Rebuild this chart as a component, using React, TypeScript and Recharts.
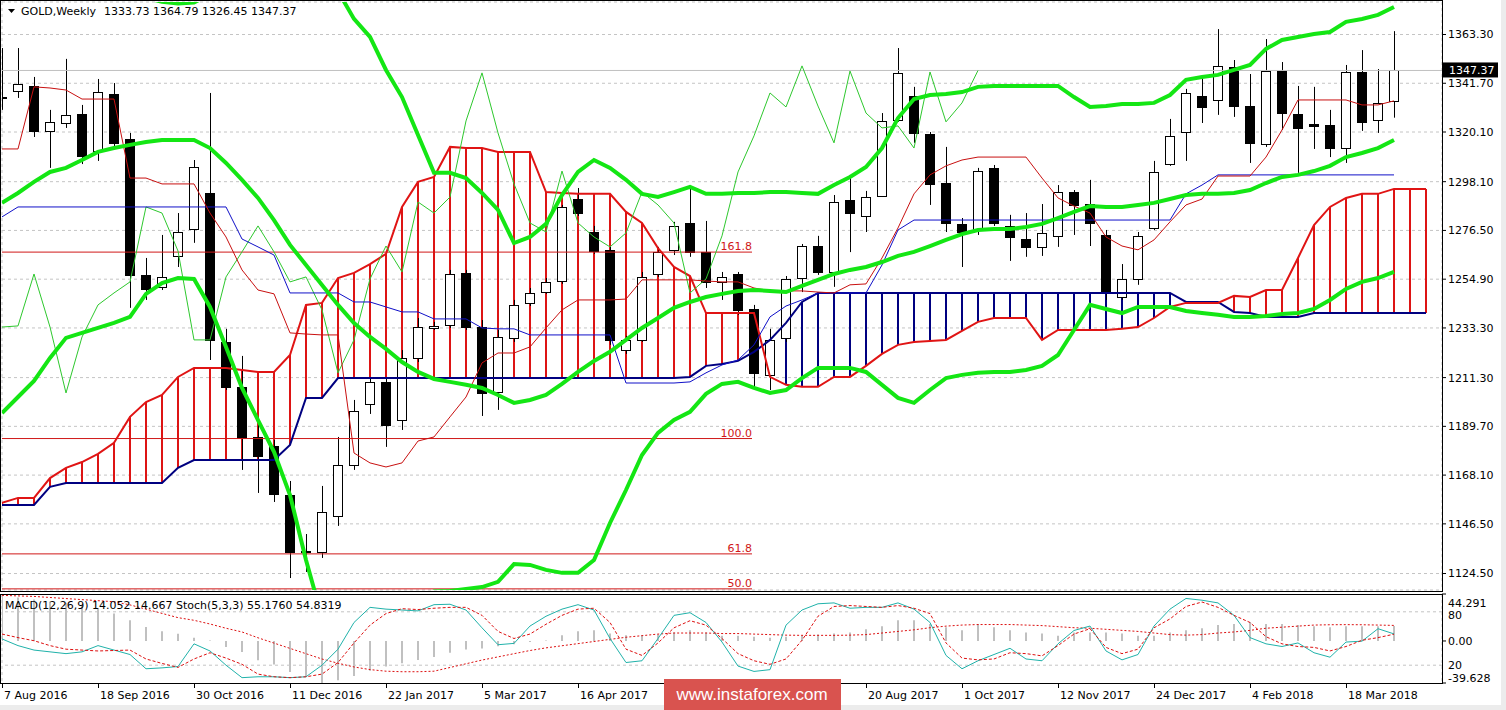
import React from 'react'
import {
  ComposedChart,
  Bar,
  Line,
  XAxis,
  YAxis,
  CartesianGrid,
  ReferenceLine,
  ReferenceDot,
} from 'recharts'

const FONT = '"DejaVu Sans", Tahoma, sans-serif'

// weekly bars, 7 Aug 2016 .. 8 Apr 2018 (index 0..87)
const opens = [
  1335.6, 1338.3, 1340.5, 1320.6, 1324.1, 1328.1, 1311.7, 1337.0, 1317.0, 1256.8,
  1251.5, 1265.2, 1277.1, 1293.1, 1227.1, 1207.2, 1185.0, 1181.0, 1159.3, 1134.1,
  1134.1, 1150.0, 1172.6, 1199.6, 1209.4, 1192.5, 1220.0, 1233.3, 1234.6, 1257.7,
  1233.7, 1204.9, 1228.9, 1244.4, 1249.2, 1254.1, 1290.4, 1275.8, 1267.9, 1223.5,
  1228.0, 1257.2, 1267.9, 1279.8, 1267.0, 1253.7, 1257.2, 1241.7, 1212.5, 1228.9,
  1255.4, 1269.6, 1258.1, 1290.0, 1282.9, 1291.8, 1325.4, 1336.1, 1319.2, 1297.5,
  1279.4, 1276.7, 1304.2, 1278.5, 1272.7, 1269.2, 1274.1, 1293.5, 1288.2, 1274.5,
  1247.0, 1255.0, 1277.6, 1305.9, 1320.1, 1336.1, 1334.3, 1348.9, 1331.6, 1314.8,
  1347.1, 1328.1, 1323.7, 1323.2, 1313.0, 1346.7, 1325.4, 1333.73,
]
const highs = [
  1357.3, 1357.3, 1344.5, 1329.9, 1352.5, 1332.1, 1343.6, 1341.8, 1319.7, 1264.3,
  1274.5, 1284.2, 1307.7, 1337.4, 1232.9, 1220.9, 1193.9, 1183.7, 1165.5, 1142.0,
  1163.3, 1185.0, 1201.4, 1211.1, 1211.1, 1223.5, 1237.7, 1236.0, 1259.0, 1259.0,
  1236.8, 1232.4, 1245.7, 1251.0, 1255.4, 1287.8, 1295.3, 1278.5, 1269.6, 1229.8,
  1258.1, 1269.2, 1280.3, 1295.3, 1280.7, 1258.1, 1258.1, 1243.5, 1232.9, 1256.3,
  1270.5, 1274.1, 1292.2, 1299.7, 1294.0, 1328.5, 1357.3, 1340.1, 1320.1, 1313.5,
  1282.0, 1304.2, 1305.5, 1283.4, 1284.2, 1288.2, 1296.6, 1294.4, 1298.9, 1276.7,
  1261.6, 1275.8, 1307.3, 1325.9, 1339.2, 1344.0, 1365.7, 1352.0, 1345.8, 1361.3,
  1351.1, 1340.5, 1340.1, 1329.9, 1349.8, 1356.4, 1348.0, 1364.79,
]
const lows = [
  1329.9, 1335.2, 1317.9, 1304.2, 1321.9, 1305.9, 1307.3, 1313.5, 1242.2, 1245.7,
  1250.1, 1260.3, 1271.0, 1219.1, 1205.8, 1170.4, 1160.2, 1156.2, 1122.5, 1125.2,
  1131.4, 1145.6, 1170.4, 1195.2, 1180.6, 1188.1, 1218.2, 1232.4, 1233.3, 1232.4,
  1194.3, 1197.0, 1227.1, 1243.0, 1248.4, 1252.8, 1282.9, 1266.1, 1225.8, 1221.8,
  1227.1, 1255.9, 1265.6, 1264.8, 1251.0, 1245.7, 1239.1, 1207.2, 1205.8, 1227.1,
  1249.2, 1256.8, 1251.5, 1266.9, 1275.8, 1291.3, 1324.6, 1315.3, 1287.8, 1275.8,
  1260.3, 1274.5, 1278.5, 1263.0, 1264.8, 1265.2, 1269.2, 1274.5, 1269.6, 1245.7,
  1245.7, 1252.4, 1276.7, 1305.1, 1307.3, 1324.1, 1327.7, 1326.8, 1306.4, 1313.5,
  1321.0, 1302.0, 1312.6, 1309.0, 1306.4, 1320.6, 1319.7, 1326.45,
]
const closes = [
  1335.7, 1341.4, 1320.6, 1324.6, 1327.7, 1309.5, 1337.8, 1315.3, 1256.8, 1250.6,
  1255.9, 1275.8, 1304.6, 1228.0, 1207.2, 1184.6, 1176.6, 1159.8, 1134.1, 1134.5,
  1151.8, 1172.6, 1196.5, 1209.4, 1190.3, 1220.0, 1233.7, 1234.2, 1257.2, 1233.7,
  1204.5, 1229.3, 1243.5, 1248.8, 1253.7, 1286.9, 1284.2, 1267.4, 1228.0, 1228.0,
  1255.9, 1267.0, 1278.5, 1267.0, 1253.7, 1255.9, 1241.3, 1213.4, 1228.0, 1255.0,
  1269.6, 1258.1, 1289.1, 1284.2, 1291.3, 1325.0, 1346.3, 1319.7, 1297.1, 1279.8,
  1275.8, 1302.8, 1279.8, 1273.6, 1269.2, 1275.4, 1293.5, 1287.8, 1279.8, 1248.8,
  1255.0, 1274.1, 1302.4, 1318.4, 1337.4, 1331.2, 1349.4, 1331.6, 1315.3, 1347.1,
  1328.5, 1321.9, 1322.8, 1313.0, 1346.7, 1324.6, 1333.0, 1347.37,
]

// ichimoku
const tenkan = [
  1312.6, 1312.6, 1340.1, 1339.6, 1338.7, 1334.7, 1334.7, 1334.7, 1299.7, 1299.7,
  1297.1, 1297.1, 1297.1, 1284.2, 1273.6, 1259.0, 1250.1, 1248.4, 1231.1, 1230.6,
  1230.2, 1230.2, 1177.9, 1173.5, 1171.7, 1173.5, 1183.2, 1185.0, 1193.9, 1202.7,
  1217.8, 1222.2, 1222.2, 1224.9, 1233.3, 1241.3, 1245.7, 1245.7, 1245.7, 1246.1,
  1254.6, 1254.6, 1254.6, 1254.6, 1254.1, 1253.7, 1253.7, 1251.0, 1249.7, 1249.7,
  1249.7, 1249.2, 1248.8, 1252.4, 1252.8, 1264.3, 1277.6, 1292.7, 1301.1, 1305.1,
  1307.7, 1309.0, 1309.0, 1309.0, 1309.0, 1299.7, 1290.9, 1287.3, 1284.2, 1273.6,
  1269.6, 1267.9, 1272.3, 1280.3, 1287.8, 1290.4, 1300.6, 1300.6, 1300.6, 1309.0,
  1321.0, 1334.3, 1334.3, 1334.3, 1334.3, 1332.1, 1332.1, 1333.9,
]
const kijun = [
  1282.5, 1286.9, 1286.9, 1286.9, 1286.9, 1286.9, 1286.9, 1286.9, 1286.9, 1286.9,
  1286.9, 1286.9, 1286.9, 1286.9, 1286.9, 1272.7, 1269.2, 1265.6, 1248.8, 1248.8,
  1248.8, 1248.8, 1244.8, 1244.8, 1242.6, 1240.4, 1240.4, 1237.3, 1237.3, 1237.3,
  1233.3, 1232.9, 1232.9, 1230.2, 1230.2, 1230.2, 1230.2, 1230.2, 1230.2, 1208.9,
  1208.9, 1208.9, 1208.9, 1209.4, 1213.4, 1216.9, 1219.1, 1225.8, 1238.2, 1243.0,
  1245.7, 1248.8, 1248.8, 1248.8, 1248.8, 1261.2, 1276.7, 1281.1, 1281.1, 1281.1,
  1281.1, 1281.1, 1281.1, 1281.1, 1281.1, 1281.1, 1281.1, 1281.1, 1281.1, 1281.1,
  1281.1, 1281.1, 1281.1, 1281.1, 1292.7, 1296.6, 1301.1, 1301.1, 1301.1, 1301.1,
  1301.1, 1301.1, 1301.1, 1301.1, 1301.1, 1301.1, 1301.1, 1301.1,
]
const chikou = [
  1233.7, 1234.2, 1257.2, 1233.7, 1204.5, 1229.3, 1243.5, 1248.8, 1253.7, 1286.9,
  1284.2, 1267.4, 1228.0, 1228.0, 1255.9, 1267.0, 1278.5, 1267.0, 1253.7, 1255.9,
  1241.3, 1213.4, 1228.0, 1255.0, 1269.6, 1258.1, 1289.1, 1284.2, 1291.3, 1325.0,
  1346.3, 1319.7, 1297.1, 1279.8, 1275.8, 1302.8, 1279.8, 1273.6, 1269.2, 1275.4,
  1293.5, 1287.8, 1279.8, 1248.8, 1255.0, 1274.1, 1302.4, 1318.4, 1337.4, 1331.2,
  1349.4, 1331.6, 1315.3, 1347.1, 1328.5, 1321.9, 1322.8, 1313.0, 1346.7, 1324.6,
  1333.0, 1347.37,
]
const spanA = [
  1155.8, 1158.0, 1158.0, 1166.8, 1171.3, 1173.9, 1177.5, 1182.4, 1193.9, 1200.5,
  1203.6, 1211.6, 1215.6, 1215.6, 1215.6, 1214.7, 1213.8, 1213.8, 1221.3, 1243.5,
  1244.4, 1255.4, 1257.7, 1261.6, 1266.1, 1286.9, 1298.0, 1300.2, 1313.5, 1313.0,
  1313.0, 1311.3, 1311.3, 1311.3, 1293.5, 1293.1, 1292.7, 1292.7, 1292.7, 1284.7,
  1279.8, 1268.7, 1260.3, 1256.3, 1239.9, 1239.9, 1239.9, 1239.9, 1211.6, 1208.1,
  1207.2, 1207.2, 1211.6, 1211.6, 1216.5, 1221.8, 1225.8, 1227.1, 1227.5, 1228.0,
  1232.0, 1236.0, 1237.7, 1237.7, 1237.7, 1228.0, 1232.4, 1232.4, 1232.4, 1232.4,
  1232.9, 1233.7, 1237.7, 1242.6, 1244.4, 1244.4, 1244.4, 1247.5, 1247.0, 1250.1,
  1250.1, 1264.3, 1278.9, 1286.9, 1290.9, 1292.7, 1292.7, 1294.9, 1294.9, 1294.9,
]
const spanB = [
  1154.9, 1154.9, 1154.9, 1162.9, 1164.6, 1164.6, 1164.6, 1164.6, 1164.6, 1164.6,
  1164.6, 1171.3, 1174.8, 1174.8, 1174.8, 1174.8, 1174.8, 1174.8, 1181.5, 1202.3,
  1202.3, 1211.1, 1211.1, 1211.1, 1211.1, 1211.1, 1211.1, 1211.1, 1211.1, 1211.1,
  1211.1, 1211.1, 1211.1, 1211.1, 1211.1, 1211.1, 1211.1, 1211.1, 1211.1, 1211.1,
  1211.1, 1211.1, 1211.1, 1211.6, 1216.5, 1217.3, 1218.7, 1222.7, 1228.0, 1235.5,
  1244.8, 1248.8, 1248.8, 1248.8, 1248.8, 1248.8, 1248.8, 1248.8, 1248.8, 1248.8,
  1248.8, 1248.8, 1248.8, 1248.8, 1248.8, 1248.8, 1248.8, 1248.8, 1248.8, 1248.8,
  1248.8, 1248.8, 1248.8, 1248.8, 1244.8, 1244.8, 1244.8, 1240.4, 1239.9, 1238.2,
  1238.2, 1238.2, 1239.9, 1239.9, 1239.9, 1239.9, 1239.9, 1239.9, 1239.9, 1239.9,
]

// bollinger bands
const bbUpper = [
  1383, 1384, 1385, 1384, 1383, 1382, 1381, 1380.5, 1380, 1379.5,
  1377.8, 1377.0, 1377.5, 1381, 1386, 1390, 1392, 1392, 1392, 1392,
  1390, 1382.5, 1370.2, 1362.2, 1347.6, 1335.6, 1318.8, 1302.0, 1302.0, 1299.7,
  1293.1, 1285.6, 1270.9, 1273.6, 1279.4, 1292.2, 1302.4, 1307.7, 1304.2, 1298.9,
  1292.7, 1291.3, 1293.5, 1295.8, 1292.7, 1292.7, 1293.1, 1293.1, 1293.5, 1293.5,
  1293.1, 1292.7, 1296.6, 1300.2, 1304.6, 1313.0, 1326.3, 1334.7, 1336.5, 1336.9,
  1337.8, 1340.1, 1340.5, 1340.5, 1340.5, 1340.5, 1340.5, 1335.6, 1331.2, 1331.6,
  1332.5, 1332.5, 1333.0, 1336.5, 1343.2, 1344.5, 1345.4, 1347.6, 1349.8, 1356.9,
  1360.9, 1362.2, 1363.5, 1364.4, 1368.9, 1370.2, 1372.0, 1375.5,
]
const bbMid = [
  1288.7, 1293.1, 1298.0, 1302.4, 1304.2, 1307.7, 1311.3, 1313.0, 1314.4, 1315.7,
  1316.6, 1316.6, 1316.6, 1313.0, 1306.4, 1298.9, 1290.9, 1281.1, 1270.1, 1261.2,
  1252.3, 1243.5, 1235.5, 1229.3, 1224.0, 1218.2, 1213.8, 1210.7, 1209.4, 1208.1,
  1206.7, 1203.6, 1200.1, 1201.4, 1203.6, 1208.5, 1213.8, 1218.7, 1222.7, 1228.0,
  1233.3, 1237.7, 1242.2, 1244.8, 1247.0, 1248.4, 1249.7, 1250.1, 1249.7, 1249.2,
  1251.9, 1254.6, 1257.2, 1259.0, 1260.3, 1262.5, 1265.2, 1267.0, 1269.6, 1272.3,
  1274.9, 1276.7, 1277.1, 1277.1, 1278.0, 1279.4, 1282.0, 1284.7, 1287.3, 1286.9,
  1286.9, 1287.8, 1288.7, 1290.4, 1292.2, 1292.7, 1292.7, 1293.1, 1294.4, 1297.5,
  1300.2, 1301.1, 1302.8, 1305.1, 1309.0, 1310.8, 1313.0, 1316.6,
]
const bbLower = [
  1195.6, 1202.7, 1209.8, 1220.0, 1228.9, 1231.1, 1233.3, 1235.5, 1238.2, 1248.4,
  1253.2, 1255.4, 1255.0, 1242.6, 1224.9, 1206.7, 1192.5, 1178.4, 1159.3, 1130.5,
  1105.0, 1100.0, 1098.0, 1097.0, 1098.0, 1099.0, 1106.0, 1116.5, 1116.8, 1117.7,
  1118.5, 1120.8, 1128.7, 1128.3, 1126.1, 1124.8, 1124.8, 1130.5, 1146.9, 1161.5,
  1177.0, 1186.8, 1192.5, 1196.1, 1204.1, 1208.5, 1209.4, 1206.7, 1204.5, 1205.8,
  1211.1, 1215.6, 1215.6, 1215.6, 1213.8, 1208.1, 1202.3, 1200.1, 1205.8, 1211.1,
  1212.5, 1213.4, 1213.8, 1213.8, 1214.7, 1216.5, 1221.3, 1232.4, 1243.5, 1241.7,
  1239.9, 1242.6, 1242.6, 1242.6, 1240.8, 1239.9, 1239.1, 1238.2, 1238.2, 1238.6,
  1239.5, 1239.9, 1241.7, 1245.7, 1250.6, 1253.7, 1255.4, 1258.1,
]

// MACD(12,26,9) and Stoch(5,3,3)
const macdHist = [
  44.291, 41, 39, 37, 36, 34, 31, 26, 19.5, 13.2,
  9.1, 6.9, 3, 0.5, -5.7, -10.4, -18.2, -22.3, -29.2, -33,
  -39.6, -37, -33, -28, -24, -21, -18, -15, -11, -8,
  -7, -5, -3, -1, 0.5, 5.3, 9.1, 10, 7, 5.3,
  5.3, 6, 8, 10, 8, 5, 5, 4, 3, 4,
  5, 6, 7, 8, 11, 14, 19.5, 19.5, 16, 13,
  10, 16, 13, 10, 8, 7, 5, 8, 8, 8,
  7, 5, 5, 8, 10, 12, 15, 16, 18, 16,
  16, 15, 14, 13, 14, 14, 14, 14.052,
]
const macdSignal = [
  43, 42.5, 42, 41, 40, 39, 38, 37, 34, 30,
  26, 22, 19.5, 16, 12, 8.5, 3, -2, -7, -12,
  -17, -21, -24.5, -27, -28.5, -29, -29, -28.5, -25, -21.5,
  -18, -15, -12, -9, -6.5, -4.5, -2.5, -0.5, 1.5, 3.5,
  5, 6.5, 7.5, 7.5, 7.5, 7, 7, 6.5, 6, 5.5,
  5.3, 5.3, 5.3, 5.5, 6, 7.5, 9, 10.5, 12.5, 14,
  15, 15.5, 15.5, 15.5, 15, 14.5, 13.5, 12.5, 12, 11,
  10, 9, 7.5, 6, 5.5, 6, 7.5, 8.5, 10, 12,
  13, 14, 15, 15.3, 15.4, 15.3, 15, 14.667,
]
const stochMain = [
  49.5, 42, 37, 35, 33, 35, 42, 37, 32, 16,
  17, 18.5, 44, 36, 20, 6, 7, 7, 6, 7,
  20, 38, 68, 85, 83, 82, 81, 88, 88.5, 82,
  62, 43, 44.5, 64, 75, 83, 88, 82, 50, 23,
  25, 50, 76, 79, 68, 46, 19, 13, 15, 65,
  82, 89, 90, 84, 85, 85, 90, 83, 68, 31,
  16, 25, 32, 39, 27, 25, 44, 59, 64, 36,
  26, 32, 64, 83, 95, 93, 90, 76, 51, 44,
  41, 45, 34, 29, 46, 47, 61, 55.176,
]
const stochSignal = [
  55, 51, 47.5, 42, 38, 37, 36, 36.5, 37, 27,
  22, 17.5, 27, 34, 28, 21, 10, 7, 6, 7,
  10, 23, 45, 65, 78, 83.5, 82.5, 84, 85, 85,
  76, 58, 50, 55, 66, 76, 83, 84, 68, 38,
  31, 45, 62, 70, 65, 50, 33, 25, 21, 27,
  48, 75, 86, 87, 86, 85, 87, 84, 78, 45,
  28, 26, 27, 34, 33, 30.5, 42, 55, 61, 40,
  33, 38, 62, 72, 86, 91, 85, 76, 68, 52,
  44, 41, 40, 36, 41, 48, 51, 54.832,
]

const PRICE_TICKS = [1124.5, 1146.5, 1168.1, 1189.7, 1211.3, 1233.3, 1254.9, 1276.5, 1298.1, 1320.1, 1341.7, 1363.3]
const GRID_TICKS = Array.from({ length: 29 }, (_, k) => 3 * (k + 1))
// 28 May / 9 Jul 2017 sit under the watermark and are not shown
const DATE_TICKS = [0, 6, 12, 18, 24, 30, 36, 54, 60, 66, 72, 78, 84]
const DATE_LABELS = [
  '7 Aug 2016', '18 Sep 2016', '30 Oct 2016', '11 Dec 2016', '22 Jan 2017',
  '5 Mar 2017', '16 Apr 2017', '20 Aug 2017', '1 Oct 2017', '12 Nov 2017',
  '24 Dec 2017', '4 Feb 2018', '18 Mar 2018',
]
const FIB_NAMES = ['161.8', '100.0', '61.8', '50.0']
const FIB_PRICES = [1266.9, 1184.3, 1133.2, 1117.7]
const FIB_END = 46.875
const LAST_PRICE = 1347.37

const priceRows = Array.from({ length: 90 }, (_, i) => ({
  i,
  o: opens[i] ?? null,
  h: highs[i] ?? null,
  l: lows[i] ?? null,
  c: closes[i] ?? null,
  tenkan: tenkan[i] ?? null,
  kijun: kijun[i] ?? null,
  chikou: chikou[i] ?? null,
  spanA: spanA[i] ?? null,
  spanB: spanB[i] ?? null,
  bbUp: bbUpper[i] ?? null,
  bbMid: bbMid[i] ?? null,
  bbLow: bbLower[i] ?? null,
}))

const oscRows = macdHist.map((v, i) => ({
  i,
  hist: v,
  sig: macdSignal[i],
  k: stochMain[i],
  d: stochSignal[i],
}))

const Candle = (props: any) => {
  const { x, y, width, height, payload } = props
  if (payload == null || payload.o == null || !isFinite(y)) return null
  const { o, h, l, c } = payload
  const top = Math.min(y, y + height)
  const span = Math.abs(height)
  const k = h - l === 0 ? 0 : span / (h - l)
  const yo = top + (h - o) * k
  const yc = top + (h - c) * k
  const cx = Math.round(x + width / 2)
  const b0 = Math.min(yo, yc)
  const b1 = Math.max(yo, yc)
  return (
    <g>
      <line x1={cx + 0.5} x2={cx + 0.5} y1={top} y2={top + span} stroke="#000" />
      <rect
        x={cx - 4.5}
        y={Math.round(b0) + 0.5}
        width={9}
        height={Math.max(Math.round(b1 - b0), 1)}
        fill={c >= o ? '#fff' : '#000'}
        stroke="#000"
      />
    </g>
  )
}

const Hatch = (props: any) => {
  const { x, y, width, height, payload } = props
  if (payload == null || payload.spanA == null || !isFinite(y)) return null
  const cx = Math.round(x + width / 2)
  const top = Math.min(y, y + height)
  return (
    <line
      x1={cx}
      x2={cx}
      y1={top}
      y2={top + Math.abs(height)}
      stroke={payload.spanA >= payload.spanB ? '#dd1414' : '#000080'}
      strokeWidth={2}
    />
  )
}

const DateTick = (props: any) => {
  const { x, y, payload } = props
  const label = DATE_LABELS[DATE_TICKS.indexOf(payload.value)]
  return (
    <g>
      <line x1={x + 0.5} x2={x + 0.5} y1={y + 1} y2={y + 5} stroke="#000" />
      <text x={x + 2} y={y + 16} fontSize={11} fontFamily={FONT} fill="#000">
        {label}
      </text>
    </g>
  )
}

const MacdTick = (props: any) => {
  const { x, y, payload } = props
  const v = payload.value
  const dy = v > 1 ? 9 : v < -1 ? -5 : 0
  const label = v === 0 ? '0.00' : String(v)
  return (
    <text x={x} y={y + dy} dy="0.355em" fontSize={11} fontFamily={FONT} fill="#000">
      {label}
    </text>
  )
}

export default function App() {
  const tickStyle = { fill: '#000', fontSize: 11, fontFamily: FONT }
  return (
    <div style={{ position: 'absolute', left: 0, top: 0, width: 1506, height: 710, background: '#fff', overflow: 'hidden' }}>
      <div style={{ position: 'absolute', left: 0, top: 0 }}>
        <ComposedChart width={1506} height={592} data={priceRows} margin={{ top: 2, right: 0, bottom: 2, left: 2 }}>
          <XAxis xAxisId={0} type="number" dataKey="i" domain={[0, 90]} ticks={GRID_TICKS} height={0} tick={false} axisLine={false} tickLine={false} allowDataOverflow />
          <XAxis xAxisId="k" type="number" dataKey="i" domain={[0, 90]} hide allowDataOverflow />
          <XAxis xAxisId="c" type="number" dataKey="i" domain={[0, 90]} hide allowDataOverflow />
          <YAxis
            orientation="right"
            domain={[1117.2, 1377.7]}
            allowDataOverflow
            ticks={PRICE_TICKS}
            interval={0}
            width={64}
            tickSize={4}
            tickMargin={2}
            axisLine={false}
            tickLine={{ stroke: '#000' }}
            tick={tickStyle}
            tickFormatter={(v: number) => v.toFixed(2)}
          />
          <CartesianGrid stroke="#c4c4c4" strokeDasharray="3 3" />
          <ReferenceLine y={LAST_PRICE} stroke="#c0c0c0" />
          {FIB_PRICES.map((p, n) => (
            <ReferenceLine key={FIB_NAMES[n]} segment={[{ x: 0, y: p }, { x: FIB_END, y: p }]} stroke="#d01818" />
          ))}

          <Bar
            xAxisId="k"
            dataKey={(d: any) => (d.spanA == null ? null : [Math.min(d.spanA, d.spanB), Math.max(d.spanA, d.spanB)])}
            barSize={2}
            shape={Hatch}
            isAnimationActive={false}
          />
          <Line dataKey="spanB" stroke="#000080" strokeWidth={2} dot={false} isAnimationActive={false} />
          <Line dataKey="spanA" stroke="#e01414" strokeWidth={2} dot={false} isAnimationActive={false} />

          <Bar
            xAxisId="c"
            dataKey={(d: any) => (d.h == null ? null : [d.l, d.h])}
            barSize={9}
            shape={Candle}
            isAnimationActive={false}
          />

          <Line dataKey="chikou" stroke="#2ec82e" strokeWidth={1} dot={false} isAnimationActive={false} />
          <Line dataKey="kijun" stroke="#1010c8" strokeWidth={1} dot={false} isAnimationActive={false} />
          <Line dataKey="tenkan" stroke="#c81010" strokeWidth={1} dot={false} isAnimationActive={false} />

          <Line dataKey="bbUp" stroke="#14e614" strokeWidth={4} dot={false} isAnimationActive={false} />
          <Line dataKey="bbMid" stroke="#14e614" strokeWidth={4} dot={false} isAnimationActive={false} />
          <Line dataKey="bbLow" stroke="#14e614" strokeWidth={4} dot={false} isAnimationActive={false} />

          {FIB_PRICES.map((p, n) => (
            <ReferenceDot
              key={'l' + FIB_NAMES[n]}
              x={FIB_END}
              y={p}
              r={0}
              shape={(s: any) => (
                <text x={s.cx} y={s.cy - 2} textAnchor="end" fontSize={11} fontFamily={FONT} fill="#d01818">
                  {FIB_NAMES[n]}
                </text>
              )}
            />
          ))}
          <ReferenceDot
            x={90}
            y={LAST_PRICE}
            r={0}
            shape={(s: any) => (
              <g>
                <rect x={s.cx + 1} y={s.cy - 8} width={55} height={15} fill="#000" />
                <text x={s.cx + 7} y={s.cy} dy="0.355em" fontSize={11} fontFamily={FONT} fill="#fff">
                  {LAST_PRICE.toFixed(2)}
                </text>
              </g>
            )}
          />
        </ComposedChart>
      </div>

      <div style={{ position: 'absolute', left: 0, top: 592 }}>
        <ComposedChart width={1506} height={118} data={oscRows} margin={{ top: 2, right: 0, bottom: 0, left: 2 }}>
          <XAxis xAxisId={0} type="number" dataKey="i" domain={[0, 90]} ticks={GRID_TICKS} height={0} tick={false} axisLine={false} tickLine={false} allowDataOverflow />
          <XAxis
            xAxisId="d"
            type="number"
            dataKey="i"
            domain={[0, 90]}
            ticks={DATE_TICKS}
            interval={0}
            height={27}
            tickSize={0}
            tickMargin={0}
            axisLine={false}
            tickLine={false}
            tick={DateTick}
            allowDataOverflow
          />
          <YAxis
            orientation="right"
            domain={[-39.628, 44.291]}
            allowDataOverflow
            ticks={[44.291, 0, -39.628]}
            interval={0}
            width={64}
            tickSize={4}
            tickMargin={2}
            axisLine={false}
            tickLine={{ stroke: '#000' }}
            tick={MacdTick}
          />
          <YAxis yAxisId="s" orientation="right" domain={[0, 100]} hide allowDataOverflow />
          <CartesianGrid stroke="#c4c4c4" strokeDasharray="3 3" horizontal={false} />
          <ReferenceLine yAxisId="s" y={80} stroke="#c4c4c4" strokeDasharray="3 3" />
          <ReferenceLine yAxisId="s" y={20} stroke="#c4c4c4" strokeDasharray="3 3" />

          <Bar dataKey="hist" barSize={2} fill="#c0c0c0" isAnimationActive={false} />
          <Line dataKey="sig" stroke="#dd1010" strokeWidth={1} strokeDasharray="2 2" dot={false} isAnimationActive={false} />
          <Line yAxisId="s" dataKey="k" stroke="#20b2aa" strokeWidth={1} dot={false} isAnimationActive={false} />
          <Line yAxisId="s" dataKey="d" stroke="#dd1010" strokeWidth={1} strokeDasharray="3 2" dot={false} isAnimationActive={false} />

          {[80, 20].map((lv) => (
            <ReferenceDot
              key={lv}
              yAxisId="s"
              x={90}
              y={lv}
              r={0}
              shape={(s: any) => (
                <text x={s.cx + 6} y={s.cy + (lv > 50 ? 3 : 0)} dy="0.355em" fontSize={11} fontFamily={FONT} fill="#000">
                  {lv}
                </text>
              )}
            />
          ))}
        </ComposedChart>
      </div>

      <svg width={1506} height={710} style={{ position: 'absolute', left: 0, top: 0, pointerEvents: 'none' }}>
        <rect x={0.5} y={0.5} width={1442} height={591} fill="none" stroke="#000" />
        <rect x={0.5} y={594.5} width={1442} height={89} fill="none" stroke="#000" />
        <polygon points="8,9 15,9 11.5,13" fill="#000" />
        <text x={21} y={15} fontSize={11} fontFamily={FONT} fill="#000">GOLD,Weekly</text>
        <text x={104} y={15} fontSize={11} fontFamily={FONT} fill="#000">1333.73 1364.79 1326.45 1347.37</text>
        <text x={5} y={609} fontSize={11} fontFamily={FONT} fill="#000">
          MACD(12,26,9) 14.052 14.667  Stoch(5,3,3) 55.1760 54.8319
        </text>
        <rect x={1501} y={0} width={5} height={710} fill="#ececec" />
        <rect x={0} y={705} width={1506} height={5} fill="#ececec" />
        <rect x={664} y={679} width={177} height={31} fill="#d9534f" />
        <text x={752} y={700} textAnchor="middle" fontSize={17} fontFamily='"Liberation Sans", Arial, sans-serif' fill="#fff">
          www.instaforex.com
        </text>
      </svg>
    </div>
  )
}
